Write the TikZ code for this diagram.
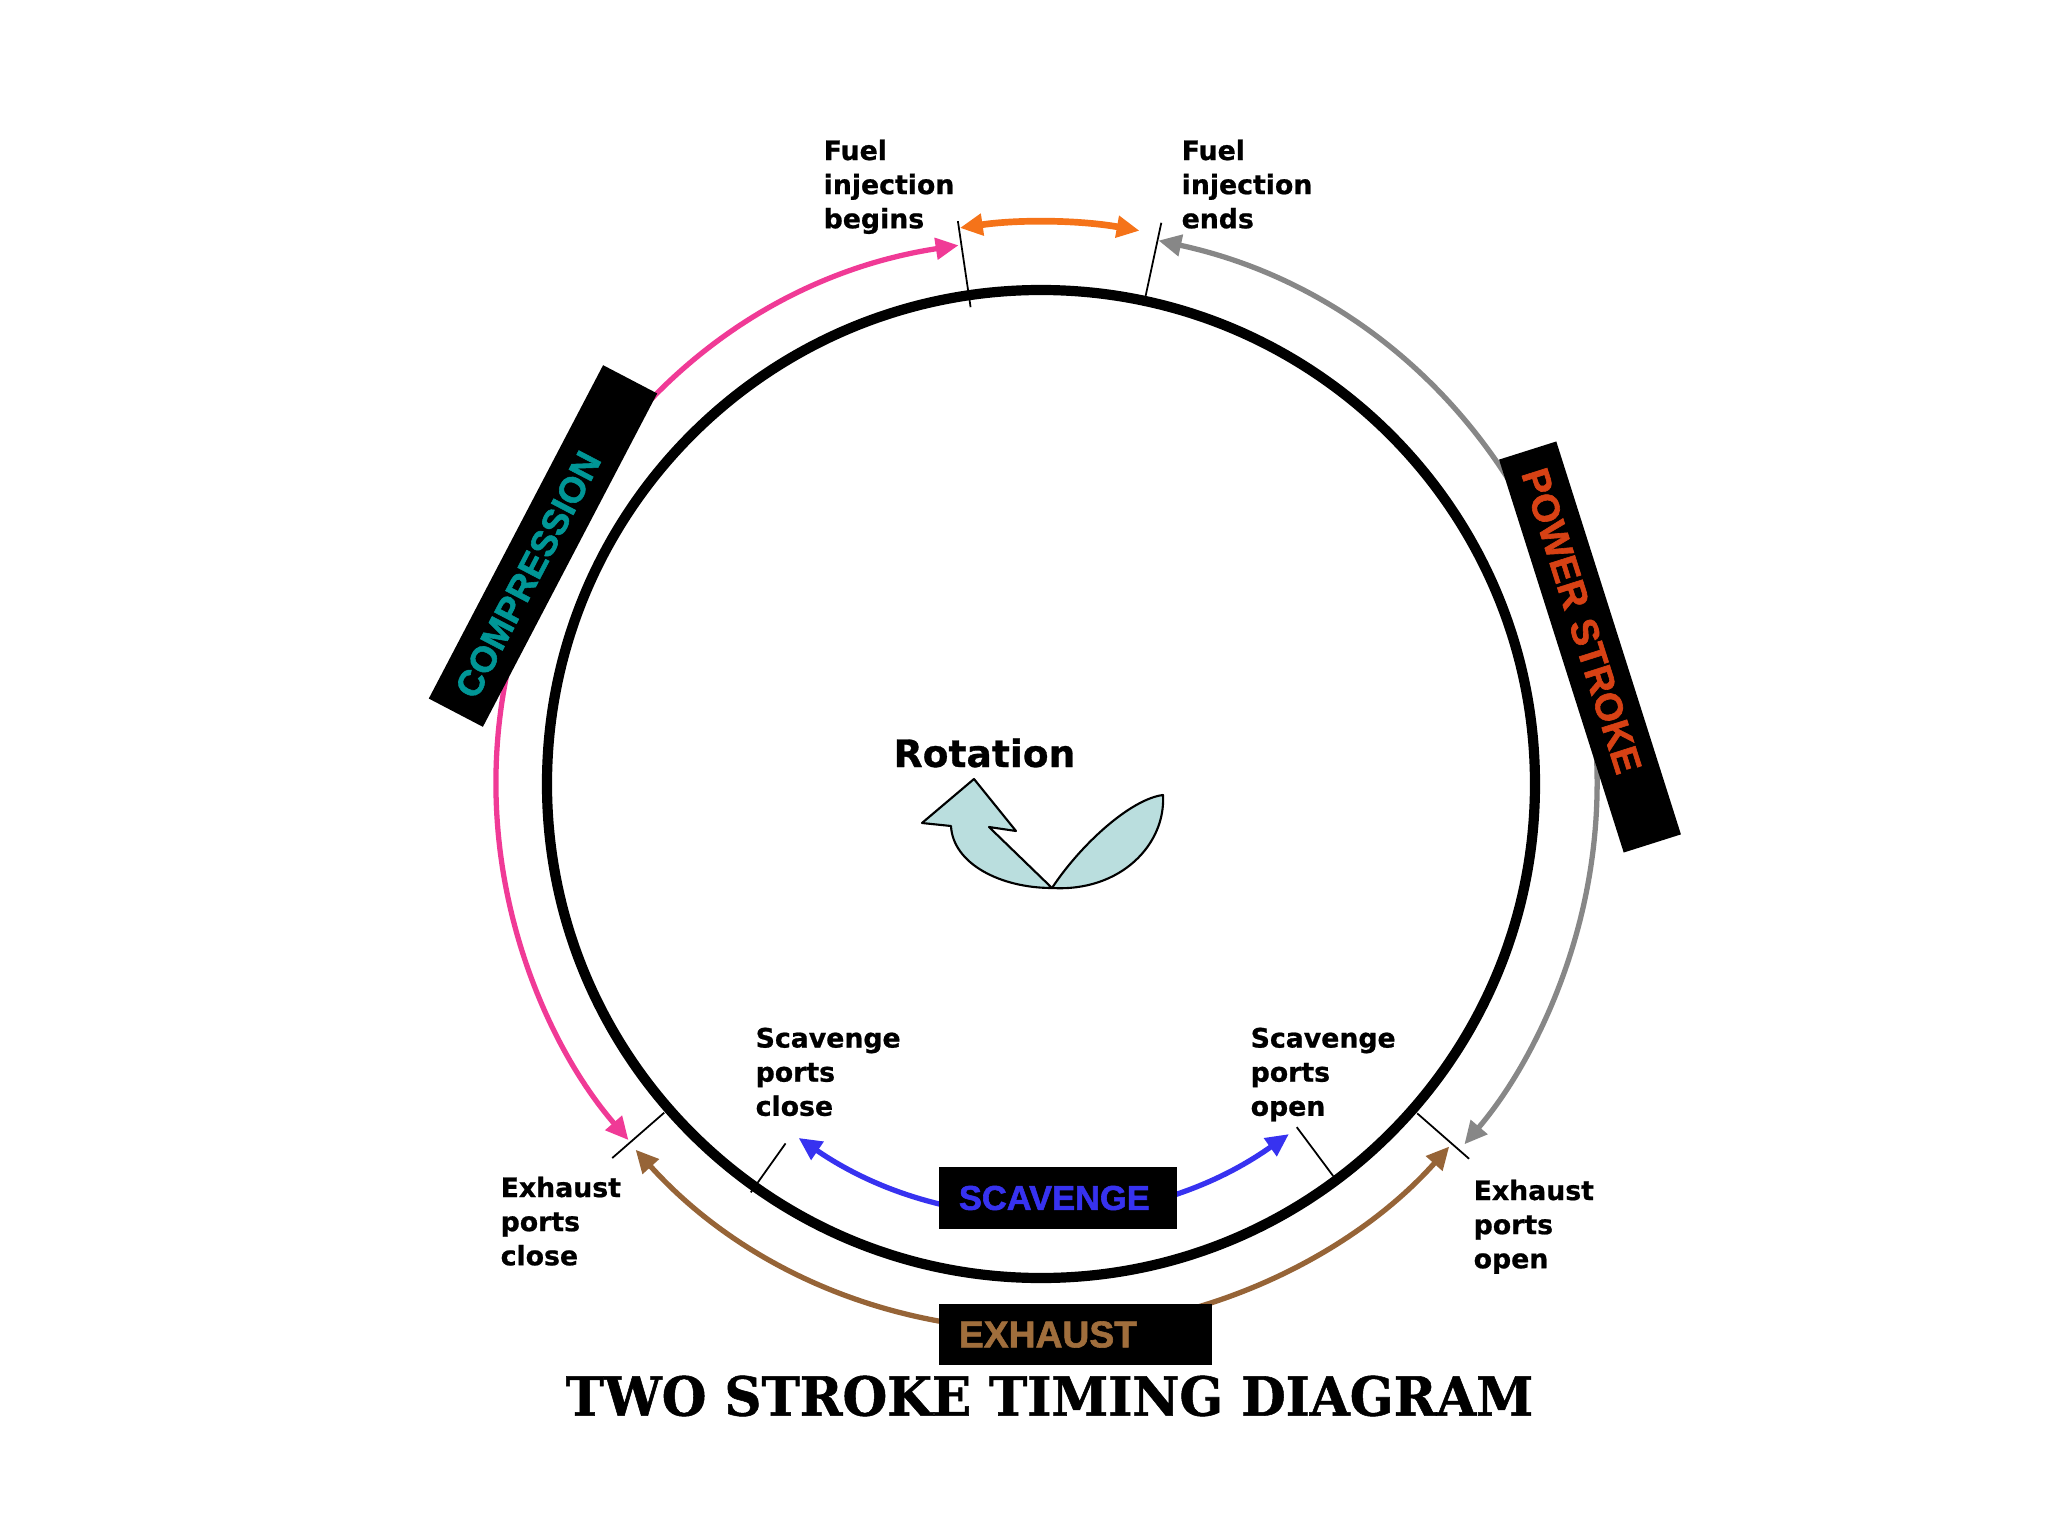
\documentclass[tikz,border=0pt]{standalone}
\usepackage{fontspec}
\usepackage{graphicx}
\setmainfont{DejaVu Sans}
\newfontfamily\notefont[FakeBold=0.8]{DejaVu Sans Bold}
\newfontfamily\boxfont[FakeBold=1.6]{Liberation Sans Bold}
\newfontfamily\titlefont[FakeBold=1]{DejaVu Serif Bold}
\usetikzlibrary{arrows.meta}
\definecolor{pinkarc}{RGB}{240,58,150}
\definecolor{orangearc}{RGB}{245,115,25}
\definecolor{grayarc}{RGB}{135,135,135}
\definecolor{brownarc}{RGB}{150,100,55}
\definecolor{bluearc}{RGB}{55,50,240}
\definecolor{comptext}{RGB}{0,150,150}
\definecolor{powertext}{RGB}{215,65,20}
\definecolor{exhtext}{RGB}{160,110,60}
\definecolor{rotfill}{RGB}{186,222,222}
\begin{document}
\begin{tikzpicture}[x=0.01cm,y=0.01cm,
    portline/.style={black,line width=0.5pt},
    phasearrow/.style={line width=1.5pt,{Triangle[length=6.5pt,width=6pt]}-{Triangle[length=6.5pt,width=6pt]}},
    note/.style={anchor=north west,inner sep=0pt,align=left,font=\notefont\fontsize{7.6}{9.7}\selectfont},
    phasebox/.style={fill=black,inner xsep=0.2cm,inner ysep=0pt,align=left,font=\boxfont\fontsize{#1}{12}\selectfont}]
    \useasboundingbox (-1041,-752) rectangle (1007,784);
    %draw port lines
    \foreach \name/\a/\ri/\ro in {fb/98.4/482/569, fe/77.9/489/574, sc/234.6/441/501, so/-53.3/428/489, ec/221.1/500/569, eo/-41.2/500/569}
        {%
            \draw[portline] (\a:\ri) coordinate (\name in) -- (\a:\ro) coordinate (\name out);
        }
    %draw phase arrows
    \draw[phasearrow,pinkarc] (98.7:545) arc[start angle=98.7,end angle=220.8,radius=545];
    \draw[phasearrow,grayarc] (77.8:556) arc[start angle=77.8,end angle=-40.4,radius=556];
    \draw[phasearrow,orangearc,line width=1.9pt] (98.3:562) arc[start angle=98.3,end angle=79.9,radius=562];
    \draw[phasearrow,brownarc] (222.05:546) arc[start angle=222.05,end angle=318.4,radius=546];
    \draw[phasearrow,bluearc] (235.6:429) arc[start angle=235.6,end angle=305.3,radius=429];
    %draw circle
    \draw[line width=2.9pt] (0,0) circle[radius=494];
    %draw phase boxes
    \node[phasebox=10.3,rotate=62.4,text width=3.36cm,minimum height=0.61cm,text=comptext] (comp) at (-498,238) {COMPRESSION};
    \node[phasebox=10.9,rotate=-72.4,text width=3.72cm,minimum height=0.60cm,text=powertext] (power) at (549,137) {POWER STROKE};
    \node[phasebox=9.8,text width=1.98cm,minimum height=0.62cm,text=bluearc] (scav) at (17,-414) {SCAVENGE};
    \node[phasebox=10.6,text width=2.33cm,minimum height=0.61cm,text=exhtext] (exh) at (34.5,-550.5) {EXHAUST};
    %draw port labels
    \node[note] (fuelb) at (-218,645) {Fuel\\injection\\begins};
    \node[note] (fuele) at (140,645) {Fuel\\injection\\ends};
    \node[note] (scavc) at (-286,-243) {Scavenge\\ports\\close};
    \node[note] (scavo) at (209,-243) {Scavenge\\ports\\open};
    \node[note] (exhc) at (-541,-392) {Exhaust\\ports\\close};
    \node[note] (exho) at (432,-395) {Exhaust\\ports\\open};
    %draw rotation sign
    \node[anchor=base west,inner sep=0pt,font=\notefont\fontsize{10.7}{12}\selectfont] (rot) at (-148,17) {Rotation};
    \draw[fill=rotfill,line width=0.6pt,line join=round] (-67,5) -- (-119,-39) -- (-90,-42) .. controls (-88,-80) and (-40,-104) .. (11,-104) -- (-52,-43) -- (-25,-47) -- cycle;
    \draw[fill=rotfill,line width=0.6pt,line join=round] (11,-104) .. controls (40,-60) and (90,-15) .. (122,-11) .. controls (125,-60) and (80,-108) .. (11,-104) -- cycle;
    %draw title
    \node[inner sep=0pt] (title) at (8.5,-612) {\resizebox{9.67cm}{0.40cm}{\titlefont TWO STROKE TIMING DIAGRAM}};
\end{tikzpicture}
\end{document}
